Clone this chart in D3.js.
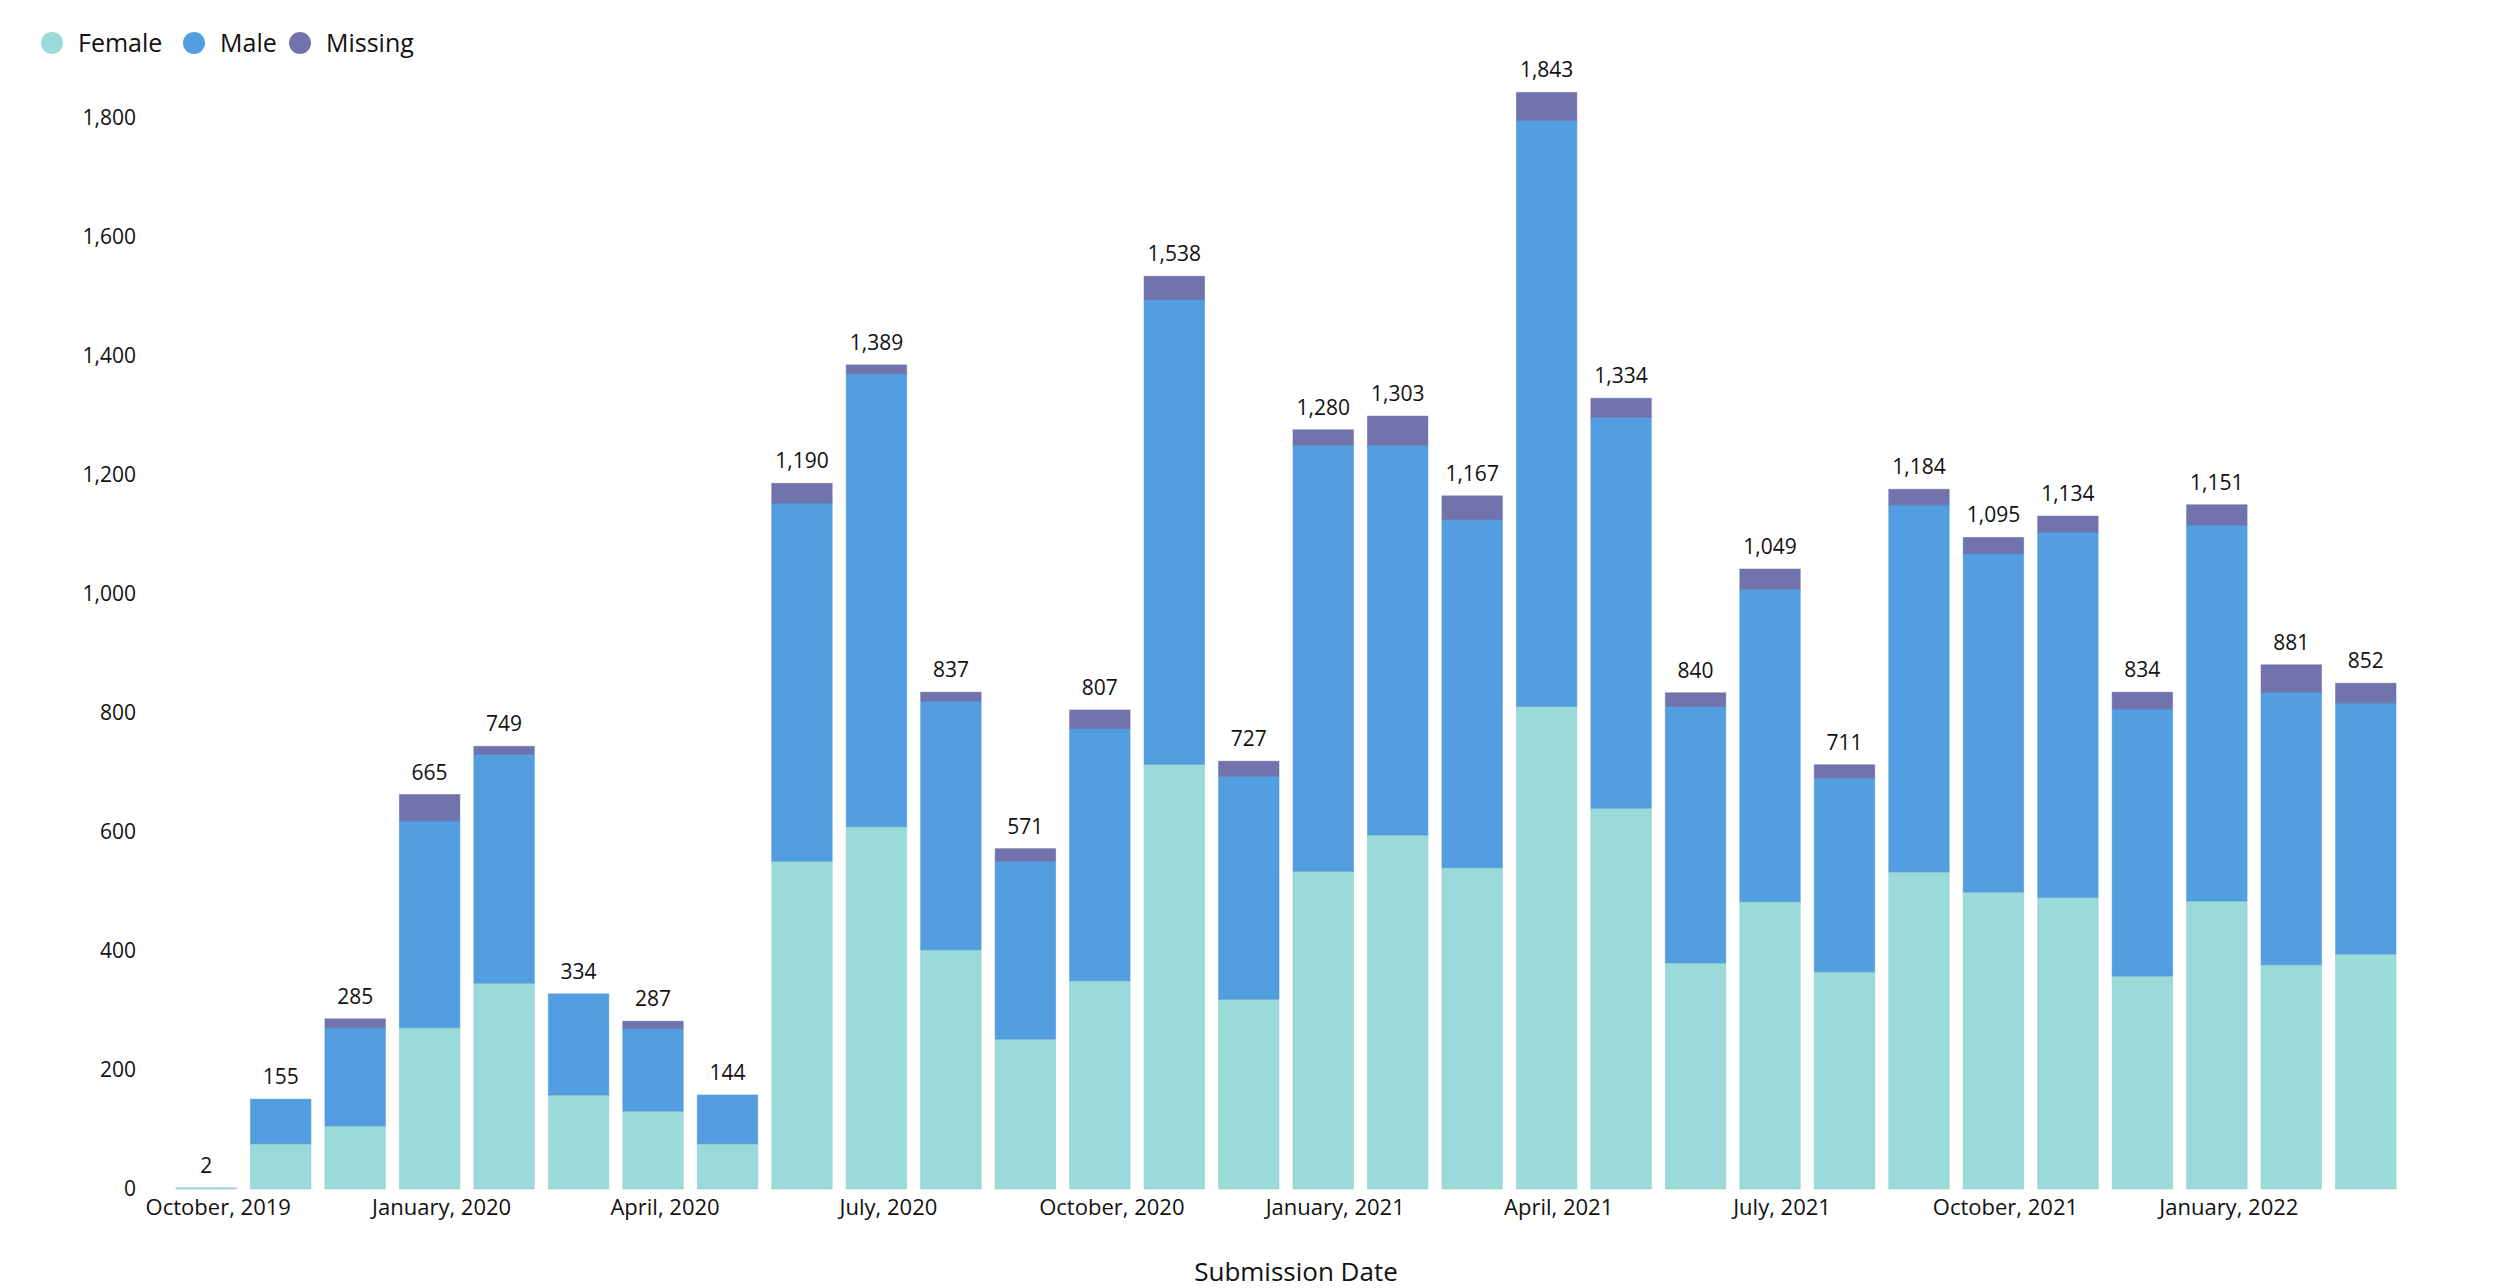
<!DOCTYPE html>
<html><head><meta charset="utf-8">
<script src="https://cdn.jsdelivr.net/npm/d3@7"></script>
<style>
body{margin:0;background:#fff}
text{font-family:"Open Sans",sans-serif;fill:#111}
</style>
</head><body>
<svg id="chart" width="2500" height="1288"></svg>
<script>
// ---- data ----
const months = ["2019-10","2019-11","2019-12","2020-01","2020-02","2020-03","2020-04","2020-05","2020-06","2020-07",
  "2020-08","2020-09","2020-10","2020-11","2020-12","2021-01","2021-02","2021-03","2021-04","2021-05",
  "2021-06","2021-07","2021-08","2021-09","2021-10","2021-11","2021-12","2022-01","2022-02","2022-03"];
const female  = [2,76,106,271,346,158,131,76,551,609,402,252,350,714,319,534,595,540,811,640,380,483,365,533,499,490,358,484,377,395];
const male    = [0,75,165,348,385,170,139,82,602,761,418,299,424,781,375,716,655,585,985,657,431,525,326,617,569,614,449,632,458,422];
const missing = [0,0,15,44,13,0,12,0,33,15,15,21,31,39,25,26,49,40,47,32,23,34,22,26,27,27,28,34,46,33];
const totalLabels = [2,155,285,665,749,334,287,144,1190,1389,837,571,807,1538,727,1280,1303,1167,1843,1334,840,1049,711,1184,1095,1134,834,1151,881,852];
const tickMonths = ["2019-10","2020-01","2020-04","2020-07","2020-10","2021-01","2021-04","2021-07","2021-10","2022-01"];
const tickLabels = ["October, 2019","January, 2020","April, 2020","July, 2020","October, 2020","January, 2021","April, 2021","July, 2021","October, 2021","January, 2022"];
const seriesNames = ["Female","Male","Missing"];
const seriesColors = ["#9adad9","#529ee0","#7273ad"];
const yTicks = [0,200,400,600,800,1000,1200,1400,1600,1800];
const xTitle = "Submission Date";

// ---- build table ----
const rows = months.map((m,i)=>({month:m, Female:female[i], Male:male[i], Missing:missing[i], label:totalLabels[i]}));
const stacked = d3.stack().keys(seriesNames)(rows);

const svg = d3.select("#chart");
const x = d3.scaleBand().domain(months).range([169,2403]).paddingInner(0.188).paddingOuter(0.094);
const y = d3.scaleLinear().domain([0,1800]).range([1189,118]);
const color = d3.scaleOrdinal().domain(seriesNames).range(seriesColors);

// bars
svg.append("g").selectAll("g").data(stacked).join("g")
  .attr("fill", d=>color(d.key))
  .attr("stroke", d=>d3.color(color(d.key)).darker(0.25))
  .attr("stroke-opacity", 0.5)
  .attr("stroke-width", 1)
  .selectAll("rect").data(d=>d.filter(v=>v[1]>v[0])).join("rect")
  .attr("x", d=>x(d.data.month))
  .attr("width", x.bandwidth())
  .attr("y", d=>y(d[1]))
  .attr("height", d=>Math.max(0, y(d[0])-y(d[1])));

// value labels
const topLayer = stacked[stacked.length-1];
svg.append("g").selectAll("text").data(topLayer).join("text")
  .attr("x", d=>x(d.data.month)+x.bandwidth()/2)
  .attr("y", d=>y(d[1])-15)
  .attr("text-anchor","middle")
  .style("font-size","21px")
  .text(d=>d3.format(",")(d.data.label));

// y axis
const yAxis = svg.append("g").attr("transform","translate(145,0)")
  .call(d3.axisLeft(y).tickValues(yTicks).tickFormat(d3.format(",")).tickSize(0).tickPadding(9));
yAxis.select(".domain").remove();
yAxis.selectAll("text").style("font-size","21px").style("font-family","'Open Sans',sans-serif").attr("fill","#111");

// x axis
const xAxis = svg.append("g").attr("transform","translate(0,1189)")
  .call(d3.axisBottom(x).tickValues(tickMonths).tickFormat((d)=>tickLabels[tickMonths.indexOf(d)]).tickSize(0).tickPadding(10));
xAxis.select(".domain").remove();
xAxis.selectAll("text").attr("dx", 12).style("font-size","22px").style("font-family","'Open Sans',sans-serif").attr("fill","#111");

// x title
svg.append("text").attr("x",1296).attr("y",1281).attr("text-anchor","middle")
  .style("font-size","26px").text(xTitle);

// legend
const legendX = [52,194,300];
const lg = svg.append("g").selectAll("g").data(seriesNames).join("g")
  .attr("transform",(d,i)=>`translate(${legendX[i]},43)`);
lg.append("circle").attr("r",11).attr("fill",d=>color(d));
lg.append("text").attr("x",26).attr("dy","0.35em").style("font-size","25px").text(d=>d);
</script>
</body></html>
